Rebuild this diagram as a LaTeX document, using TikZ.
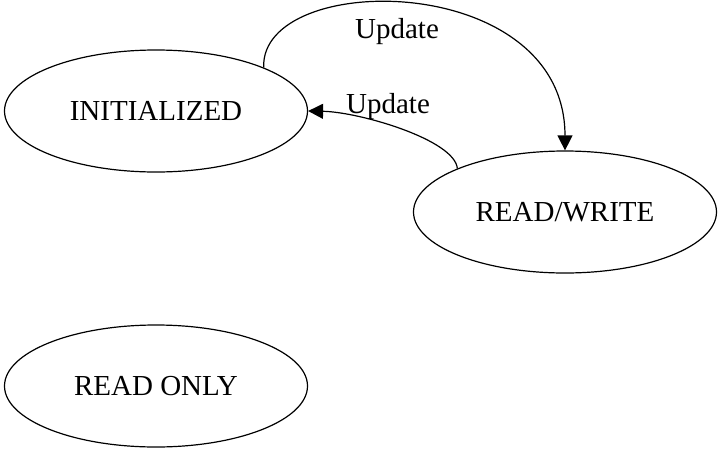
\documentclass[tikz,border=0pt]{standalone}
\usepackage{fontspec}
\setmainfont{Liberation Serif}
\usetikzlibrary{arrows.meta,shapes.geometric}
\begin{document}
\begin{tikzpicture}[x=0.5pt,y=-0.5pt,line width=0.6pt,
    state/.style={draw,ellipse,inner sep=0pt,minimum width=151.5pt,minimum height=61pt,font=\fontsize{14.5}{17}\selectfont},
    lbl/.style={anchor=base,font=\fontsize{14.5}{17}\selectfont},
    >={Triangle[length=7.5pt,width=7.5pt]}]
  \useasboundingbox (0,0) rectangle (718,450);
  \draw
    (156,111) node[state] (init) {INITIALIZED}
    (565,212) node[state] (rw) {READ/WRITE}
    (156,386) node[state] (ro) {READ ONLY};
  \begin{scope}[->]
    \draw (init.22) .. controls (260,-30) and (565,-30) .. (rw.north);
    \draw (rw.158) .. controls (455,140) and (360,112) .. (init.east);
  \end{scope}
  \node[lbl] (u1) at (397,38) {Update};
  \node[lbl] (u2) at (388,113) {Update};
\end{tikzpicture}
\end{document}
